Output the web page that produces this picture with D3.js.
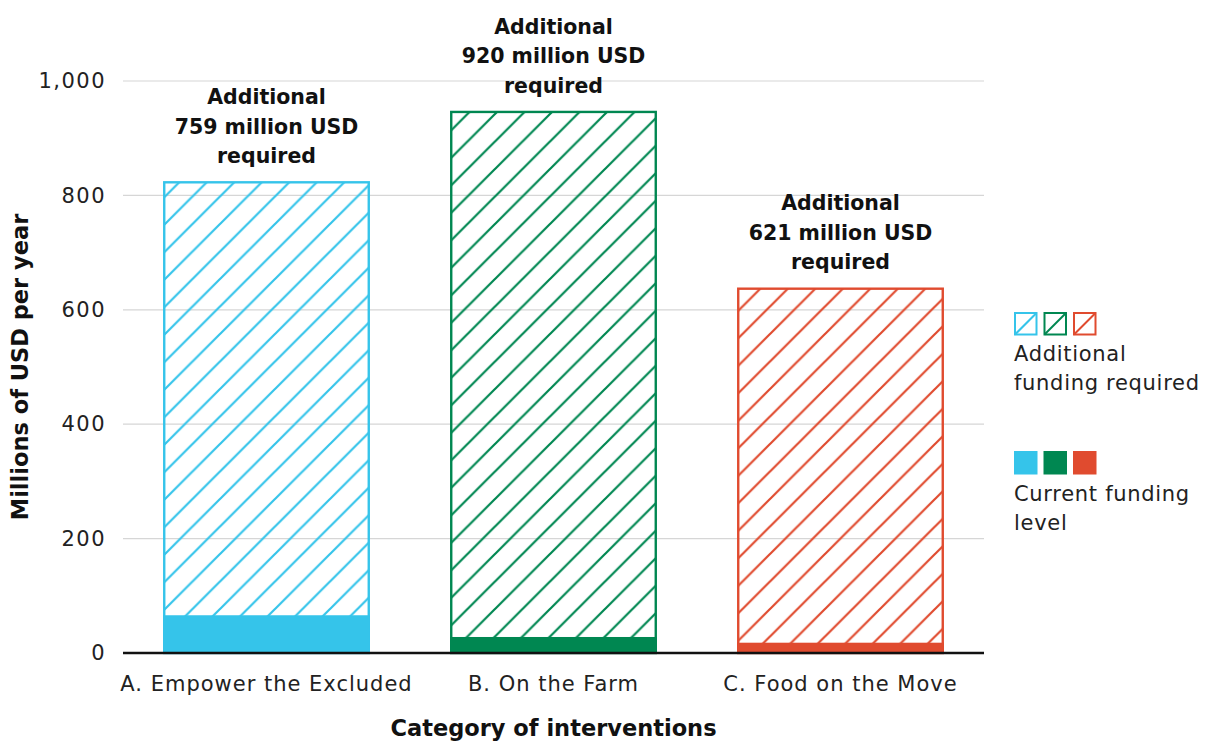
<!DOCTYPE html>
<html>
<head>
<meta charset="utf-8">
<script src="https://cdn.jsdelivr.net/npm/d3@7"></script>
<style>
  html, body { margin: 0; padding: 0; background: #fff; }
  svg { display: block; font-family: "DejaVu Sans", "Noto Sans", sans-serif; }
</style>
</head>
<body>
<svg id="chart" width="1205" height="742"></svg>
<script>
// Funding per intervention category, millions of USD per year
const categories = ["A. Empower the Excluded", "B. On the Farm", "C. Food on the Move"];
const currentFunding = [66, 28, 18];
const additionalFunding = [759, 920, 621];
const colors = ["#35c4ea", "#008751", "#e04b2f"];
const yTicks = [0, 200, 400, 600, 800, 1000];

const svg = d3.select("#chart");
const margin = { left: 123, right: 221, top: 81, bottom: 89 };
const W = 1205, H = 742;
const plotW = W - margin.left - margin.right;
const baseY = H - margin.bottom;
const FONT = "DejaVu Sans, sans-serif";

const x = d3.scaleBand()
  .domain(categories)
  .range([margin.left, margin.left + plotW])
  .paddingInner(0.279)
  .paddingOuter(0.1395);

const y = d3.scaleLinear()
  .domain([0, 1000])
  .range([baseY, margin.top]);

// Diagonal hatch patterns, one per colour
const defs = svg.append("defs");
const step = 27.5;
colors.forEach((c, i) => {
  const p = defs.append("pattern")
    .attr("id", "hatch" + i)
    .attr("patternUnits", "userSpaceOnUse")
    .attr("width", step)
    .attr("height", step)
    .attr("x", 0).attr("y", 4);
  p.append("path")
    .attr("d", `M${-step/4},${step/4} L${step/4},${-step/4} M0,${step} L${step},0 M${step*3/4},${step*5/4} L${step*5/4},${step*3/4}`)
    .attr("stroke", c)
    .attr("stroke-width", 2.2)
    .attr("fill", "none");
});

// Gridlines
svg.append("g")
  .selectAll("line")
  .data(yTicks.filter(d => d > 0))
  .join("line")
  .attr("x1", margin.left)
  .attr("x2", margin.left + plotW)
  .attr("y1", d => y(d))
  .attr("y2", d => y(d))
  .attr("stroke", "#d6d6d6")
  .attr("stroke-width", 1.2);

// Y axis tick labels
const yAxis = d3.axisLeft(y)
  .tickValues(yTicks)
  .tickFormat(d3.format(","))
  .tickSize(0)
  .tickPadding(17);
const yg = svg.append("g")
  .attr("transform", `translate(${margin.left},0)`)
  .call(yAxis);
yg.select(".domain").remove();
yg.selectAll("text")
  .attr("font-size", 21)
  .attr("letter-spacing", 1.5)
  .attr("fill", "#222")
  .attr("font-family", FONT);

const rows = categories.map((c, i) => ({
  cat: c, cur: currentFunding[i], add: additionalFunding[i], color: colors[i], i
}));

// Hatched total bars (current + additional)
const bw = x.bandwidth();
svg.append("g")
  .selectAll("rect")
  .data(rows)
  .join("rect")
  .attr("x", d => x(d.cat) + 1.2)
  .attr("width", bw - 2.4)
  .attr("y", d => y(d.cur + d.add) + 1.2)
  .attr("height", d => y(0) - y(d.cur + d.add) - 1.2)
  .attr("fill", d => `url(#hatch${d.i})`)
  .attr("stroke", d => d.color)
  .attr("stroke-width", 2.4);

// Solid current funding segment
svg.append("g")
  .selectAll("rect")
  .data(rows)
  .join("rect")
  .attr("x", d => x(d.cat))
  .attr("width", bw)
  .attr("y", d => y(d.cur))
  .attr("height", d => y(0) - y(d.cur))
  .attr("fill", d => d.color);

// Baseline
svg.append("line")
  .attr("x1", margin.left)
  .attr("x2", margin.left + plotW)
  .attr("y1", baseY)
  .attr("y2", baseY)
  .attr("stroke", "#111")
  .attr("stroke-width", 2.6);

// X axis labels
const xAxis = d3.axisBottom(x).tickSize(0).tickPadding(23);
const xg = svg.append("g")
  .attr("transform", `translate(0,${baseY})`)
  .call(xAxis);
xg.select(".domain").remove();
xg.selectAll("text")
  .attr("font-size", 21)
  .attr("letter-spacing", 1.0)
  .attr("fill", "#222")
  .attr("font-family", FONT);

// Annotations above bars
const ann = svg.append("g");
rows.forEach(d => {
  const lines = ["Additional", `${d.add} million USD`, "required"];
  const t = ann.append("text")
    .attr("text-anchor", "middle")
    .attr("font-size", 20.5)
    .attr("font-weight", 700)
    .attr("fill", "#111");
  const lastY = y(d.cur + d.add) - 18;
  lines.forEach((l, k) => {
    t.append("tspan")
      .attr("x", x(d.cat) + bw / 2)
      .attr("y", lastY - (2 - k) * 29.5)
      .text(l);
  });
});

// Axis titles
svg.append("text")
  .attr("transform", `translate(28,${(y(0) + y(1000)) / 2}) rotate(-90)`)
  .attr("text-anchor", "middle")
  .attr("font-size", 22.5)
  .attr("font-weight", 700)
  .attr("fill", "#111")
  .text("Millions of USD per year");

svg.append("text")
  .attr("x", margin.left + plotW / 2)
  .attr("y", 736)
  .attr("text-anchor", "middle")
  .attr("font-size", 22.5)
  .attr("font-weight", 700)
  .attr("fill", "#111")
  .text("Category of interventions");

// Legend
const lg = svg.append("g");
const sq = 23.5, gap = 29.5, lx = 1014;
colors.forEach((c, i) => {
  const gx = lx + i * gap;
  lg.append("rect")
    .attr("x", gx + 1).attr("y", 312 + 1)
    .attr("width", sq - 2).attr("height", sq - 2)
    .attr("fill", "none").attr("stroke", c).attr("stroke-width", 2);
  lg.append("line")
    .attr("x1", gx + 1).attr("y1", 312 + sq - 1)
    .attr("x2", gx + sq - 1).attr("y2", 312 + 1)
    .attr("stroke", c).attr("stroke-width", 2);
  lg.append("rect")
    .attr("x", gx).attr("y", 451)
    .attr("width", sq).attr("height", sq)
    .attr("fill", c);
});
const legendText = [
  { y: 361, t: "Additional" },
  { y: 390, t: "funding required" },
  { y: 501, t: "Current funding" },
  { y: 530, t: "level" }
];
lg.selectAll("text.lt")
  .data(legendText)
  .join("text")
  .attr("class", "lt")
  .attr("x", lx)
  .attr("y", d => d.y)
  .attr("font-size", 21)
  .attr("letter-spacing", 0.7)
  .attr("fill", "#222")
  .text(d => d.t);
</script>
</body>
</html>
